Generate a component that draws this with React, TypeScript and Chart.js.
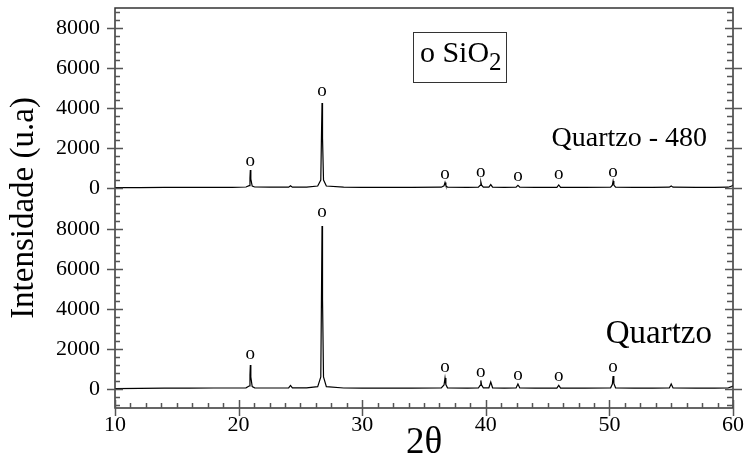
import React, { useEffect, useRef } from 'react';
import { Chart, registerables } from 'chart.js';

Chart.register(...registerables);

// 2θ positions (shared by both patterns)
const twoTheta = [
  10, 12, 14, 16, 18, 19.5,
  20.6, 20.85, 20.92, 20.95, 20.99, 21.1, 21.3,
  22.5, 24.05, 24.2, 24.35, 25.5,
  26.4, 26.65, 26.71, 26.75, 26.79, 26.87, 27.1,
  28.5, 30, 32, 34,
  36.4, 36.62, 36.7, 36.77, 36.9,
  38.5,
  39.4, 39.54, 39.6, 39.66, 39.8,
  40.25, 40.4, 40.55,
  41.5,
  42.45, 42.6, 42.75,
  44,
  45.75, 45.9, 46.05,
  48,
  50.1, 50.24, 50.3, 50.36, 50.5,
  52, 53.5,
  54.85, 55.0, 55.15,
  57, 58.5, 59.6, 59.9, 60,
];

// Intensity, sample "Quartzo" (lower panel)
const quartzo = [
  20, 30, 40, 40, 50, 50,
  60, 150, 700, 1200, 600, 120, 60,
  50, 60, 180, 60, 60,
  120, 600, 5000, 8150, 4500, 600, 120,
  50, 40, 40, 40,
  50, 200, 550, 220, 60,
  40,
  50, 180, 430, 200, 60,
  60, 350, 60,
  40,
  50, 250, 50,
  40,
  40, 180, 40,
  40,
  60, 250, 650, 280, 60,
  40, 40,
  50, 250, 50,
  40, 40, 50, 120, 150,
];

// Intensity, sample "Quartzo - 480" (upper panel)
const quartzo480 = [
  20, 20, 30, 30, 30, 30,
  50, 120, 500, 900, 450, 100, 50,
  40, 40, 110, 40, 40,
  100, 400, 2800, 4250, 2500, 400, 100,
  40, 30, 30, 30,
  40, 110, 280, 120, 40,
  30,
  40, 130, 300, 140, 40,
  40, 170, 40,
  30,
  40, 130, 40,
  30,
  30, 150, 30,
  30,
  40, 140, 350, 150, 40,
  30, 30,
  40, 100, 40,
  30, 30, 40, 100, 150,
];

// SiO2 reflections marked with "o"
const markTheta = [20.95, 26.75, 36.7, 39.6, 42.6, 45.9, 50.3];
const markQuartzo = [1650, 8750, 1000, 750, 600, 570, 1000];
const markQuartzo480 = [1230, 4730, 620, 680, 480, 600, 720];

const yTickValues = [0, 2000, 4000, 6000, 8000];
const xMin = 10;
const xMax = 60;
const yMin = -950;
const yMax = 19050;
const TOP_OFFSET = 10050; // zero of the upper panel on the shared axis

const SERIF = "'Liberation Serif', 'Times New Roman', serif";

const decorPlugin = {
  id: 'decor',
  afterDatasetsDraw(chart: any) {
    const { ctx, chartArea: a, scales } = chart;
    const xs = scales.x;
    const ys = scales.y;
    ctx.save();

    // frame
    ctx.strokeStyle = '#333';
    ctx.lineWidth = 1.5;
    ctx.strokeRect(a.left, a.top, a.right - a.left, a.bottom - a.top);

    // y ticks (both panels, both sides)
    ctx.strokeStyle = '#555';
    ctx.lineWidth = 1.5;
    for (const off of [0, TOP_OFFSET]) {
      for (let v = -800; v <= 8800; v += 400) {
        const val = off + v;
        if (val < ys.min || val > ys.max) continue;
        const py = Math.round(ys.getPixelForValue(val)) + 0.5;
        const major = v >= 0 && v % 2000 === 0;
        ctx.beginPath();
        if (major) {
          ctx.moveTo(a.left - 8, py); ctx.lineTo(a.left + 8, py);
          ctx.moveTo(a.right - 8, py); ctx.lineTo(a.right + 9, py);
        } else {
          ctx.moveTo(a.left, py); ctx.lineTo(a.left + 5, py);
          ctx.moveTo(a.right - 6, py); ctx.lineTo(a.right, py);
        }
        ctx.stroke();
      }
    }
    // x ticks
    for (let i = 0; i <= 40; i++) {
      const v = xMin + i * 1.25;
      const px = Math.round(xs.getPixelForValue(v)) + 0.5;
      const major = i % 8 === 0;
      ctx.beginPath();
      if (major) { ctx.moveTo(px, a.bottom - 8); ctx.lineTo(px, a.bottom + 8); }
      else { ctx.moveTo(px, a.bottom - 5); ctx.lineTo(px, a.bottom); }
      ctx.stroke();
    }

    // "o" markers
    ctx.fillStyle = '#000';
    ctx.textAlign = 'center';
    ctx.textBaseline = 'middle';
    ctx.font = `19px ${SERIF}`;
    markTheta.forEach((t, i) => {
      ctx.fillText('o', xs.getPixelForValue(t), ys.getPixelForValue(markQuartzo[i]) - 2);
      ctx.fillText('o', xs.getPixelForValue(t), ys.getPixelForValue(TOP_OFFSET + markQuartzo480[i]) - 2);
    });

    // sample labels
    ctx.textAlign = 'right';
    ctx.textBaseline = 'alphabetic';
    ctx.font = `28px ${SERIF}`;
    ctx.fillText('Quartzo - 480', xs.getPixelForValue(57.9), ys.getPixelForValue(TOP_OFFSET + 2000) - 2);
    ctx.font = `33px ${SERIF}`;
    ctx.fillText('Quartzo', xs.getPixelForValue(58.3), ys.getPixelForValue(2200) - 2);

    // legend box
    const bx0 = xs.getPixelForValue(34.1);
    const bx1 = xs.getPixelForValue(41.6);
    const by0 = ys.getPixelForValue(TOP_OFFSET + 7800);
    const by1 = ys.getPixelForValue(TOP_OFFSET + 5300);
    ctx.strokeStyle = '#333';
    ctx.lineWidth = 1;
    ctx.strokeRect(Math.round(bx0) + 0.5, Math.round(by0) + 0.5, Math.round(bx1 - bx0), Math.round(by1 - by0));
    ctx.textAlign = 'left';
    ctx.font = `30px ${SERIF}`;
    const base = by0 + 30;
    const t1 = 'o SiO';
    ctx.fillText(t1, bx0 + 7, base);
    const w1 = ctx.measureText(t1).width;
    ctx.font = `25px ${SERIF}`;
    ctx.fillText('2', bx0 + 7 + w1, base + 8);

    ctx.restore();
  },
};

export default function App() {
  const canvasRef = useRef<HTMLCanvasElement | null>(null);

  useEffect(() => {
    const canvas = canvasRef.current;
    if (!canvas) return;
    const chart = new Chart(canvas, {
      type: 'line',
      data: {
        datasets: [
          {
            label: 'Quartzo - 480',
            data: twoTheta.map((x, i) => ({ x, y: TOP_OFFSET + quartzo480[i] })),
            borderColor: '#000',
            borderWidth: 1.2,
            pointRadius: 0,
            tension: 0,
            fill: false,
          },
          {
            label: 'Quartzo',
            data: twoTheta.map((x, i) => ({ x, y: quartzo[i] })),
            borderColor: '#000',
            borderWidth: 1.2,
            pointRadius: 0,
            tension: 0,
            fill: false,
          },
        ],
      },
      options: {
        responsive: false,
        animation: false,
        events: [],
        layout: { padding: { left: 0, right: 12, top: 8, bottom: 0 } },
        plugins: { legend: { display: false }, tooltip: { enabled: false } },
        scales: {
          x: {
            type: 'linear',
            min: xMin,
            max: xMax,
            grid: { display: false, drawTicks: false },
            border: { display: false },
            ticks: {
              stepSize: 10,
              color: '#000',
              padding: 4,
              font: { family: SERIF, size: 22 },
            },
            title: {
              display: true,
              text: '2θ',
              color: '#000',
              font: { family: SERIF, size: 37, lineHeight: 1 },
              padding: { top: 0, bottom: 10 },
            },
            afterFit: (s: any) => {
              s.height = 64;
              s.paddingLeft = 0;
              s.paddingRight = 0;
            },
          },
          y: {
            type: 'linear',
            min: yMin,
            max: yMax,
            grid: { display: false, drawTicks: false },
            border: { display: false },
            afterBuildTicks: (s: any) => {
              s.ticks = [
                ...yTickValues.map((v) => ({ value: v })),
                ...yTickValues.map((v) => ({ value: TOP_OFFSET + v })),
              ];
            },
            ticks: {
              autoSkip: false,
              color: '#000',
              padding: 15,
              font: { family: SERIF, size: 22 },
              callback: (v: any) => String(Number(v) >= TOP_OFFSET - 1000 ? Number(v) - TOP_OFFSET : Number(v)),
            },
            title: {
              display: true,
              text: 'Intensidade (u.a)',
              color: '#000',
              font: { family: SERIF, size: 33, lineHeight: 1 },
              padding: { top: 8, bottom: 0 },
            },
            afterFit: (s: any) => {
              s.width = 115;
              s.paddingTop = 0;
              s.paddingBottom = 0;
            },
          },
        },
      },
      plugins: [decorPlugin],
    });
    return () => chart.destroy();
  }, []);

  return (
    <div style={{ position: 'fixed', left: 0, top: 0, width: 745, height: 472, background: '#fff' }}>
      <canvas ref={canvasRef} width={745} height={472} />
    </div>
  );
}
